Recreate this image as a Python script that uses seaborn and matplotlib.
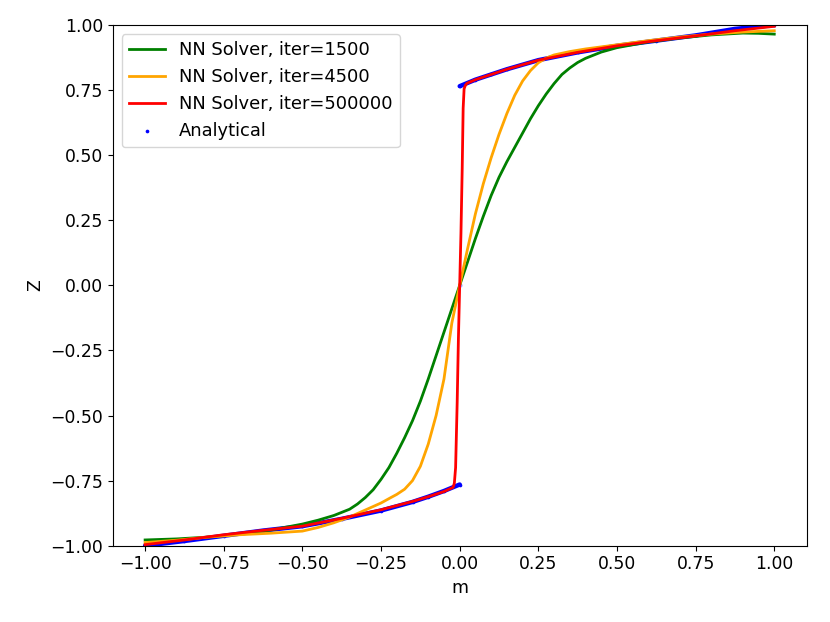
import numpy as np
import pandas as pd
import matplotlib
matplotlib.use("Agg")
import matplotlib.pyplot as plt
import seaborn as sns

# ---- data ----
green_m = [-1.0, -0.9, -0.8, -0.7, -0.6, -0.5, -0.45, -0.4, -0.35, -0.325, -0.3, -0.275,
           -0.25, -0.225, -0.2, -0.175, -0.15, -0.125, -0.1, -0.075, -0.05, -0.025, 0.0,
           0.025, 0.05, 0.075, 0.1, 0.125, 0.15, 0.175, 0.2, 0.225, 0.25, 0.275, 0.3,
           0.325, 0.35, 0.375, 0.4, 0.45, 0.5, 0.6, 0.7, 0.8, 0.9, 0.95, 1.0]
green_z = [-0.978, -0.974, -0.967, -0.956, -0.94, -0.917, -0.902, -0.884, -0.86, -0.84,
           -0.815, -0.785, -0.745, -0.70, -0.645, -0.585, -0.52, -0.445, -0.36, -0.27,
           -0.18, -0.09, 0.0, 0.09, 0.18, 0.265, 0.345, 0.415, 0.475, 0.53, 0.585, 0.64,
           0.69, 0.735, 0.775, 0.81, 0.835, 0.856, 0.872, 0.896, 0.913, 0.935, 0.95,
           0.962, 0.969, 0.968, 0.965]

orange_m = [-1.0, -0.9, -0.8, -0.7, -0.6, -0.5, -0.45, -0.4, -0.35, -0.3, -0.25, -0.22,
            -0.2, -0.175, -0.15, -0.125, -0.1, -0.075, -0.05, -0.025, 0.0, 0.025, 0.05,
            0.075, 0.1, 0.125, 0.15, 0.175, 0.2, 0.225, 0.25, 0.275, 0.3, 0.35, 0.4,
            0.5, 0.6, 0.7, 0.8, 0.9, 1.0]
orange_z = [-0.988, -0.979, -0.967, -0.958, -0.952, -0.944, -0.93, -0.912, -0.89, -0.863,
            -0.836, -0.816, -0.803, -0.783, -0.75, -0.695, -0.61, -0.50, -0.36, -0.145,
            0.0, 0.14, 0.275, 0.39, 0.49, 0.58, 0.66, 0.73, 0.785, 0.825, 0.855,
            0.873, 0.885, 0.898, 0.908, 0.924, 0.94, 0.954, 0.965, 0.973, 0.978]

red_m = [-1.0, -0.875, -0.75, -0.625, -0.5, -0.375, -0.25, -0.15, -0.1, -0.05, -0.021,
         -0.017, -0.013, -0.008, -0.004, 0.0, 0.004, 0.008, 0.011, 0.014, 0.018, 0.023,
         0.05, 0.1, 0.15, 0.25, 0.375, 0.5, 0.625, 0.75, 0.875, 1.0]
red_z = [-0.996, -0.978, -0.958, -0.941, -0.925, -0.895, -0.862, -0.83, -0.812, -0.792,
         -0.776, -0.76, -0.7, -0.45, -0.2, 0.0, 0.2, 0.45, 0.68, 0.755, 0.768, 0.776,
         0.79, 0.81, 0.83, 0.865, 0.895, 0.92, 0.94, 0.958, 0.978, 0.995]

ana_neg_m = [-1.0, -0.875, -0.75, -0.625, -0.5, -0.375, -0.25, -0.15, -0.1, -0.05, 0.0]
ana_neg_z = [-1.0, -0.982, -0.962, -0.942, -0.925, -0.897, -0.865, -0.832, -0.812, -0.79, -0.765]
ana_pos_m = [0.0, 0.05, 0.1, 0.15, 0.25, 0.375, 0.5, 0.625, 0.75, 0.875, 1.0]
ana_pos_z = [0.765, 0.79, 0.81, 0.83, 0.865, 0.895, 0.92, 0.94, 0.96, 0.985, 1.0]
ana_mid_m = [0.0]
ana_mid_z = [0.0]

labels = ["NN Solver, iter=1500", "NN Solver, iter=4500", "NN Solver, iter=500000", "Analytical"]
tick_vals = [-1.0, -0.75, -0.5, -0.25, 0.0, 0.25, 0.5, 0.75, 1.0]

plt.rcParams["font.family"] = ["DejaVu Sans"]
plt.rcParams["font.size"] = 12.4

fig = plt.figure(figsize=(8.3, 6.22), dpi=100)
ax = fig.add_axes([0.1358, 0.1227, 0.9719 - 0.1358, 0.9598 - 0.1227])

# analytical: dense dots -> thick blue band plus dots
for mm, zz in [(ana_neg_m, ana_neg_z), (ana_pos_m, ana_pos_z)]:
    ax.plot(mm, zz, color="blue", lw=3.2, solid_capstyle="round", zorder=1)
sns.scatterplot(x=ana_neg_m + ana_pos_m, y=ana_neg_z + ana_pos_z, color="blue",
                s=7, linewidth=0, label=labels[3], ax=ax, zorder=1)
sns.scatterplot(x=ana_mid_m, y=ana_mid_z, color="blue", alpha=0.35, s=9,
                linewidth=0, ax=ax, zorder=1, legend=False)

sns.lineplot(x=green_m, y=green_z, color="green", lw=2, label=labels[0], ax=ax, sort=False)
sns.lineplot(x=orange_m, y=orange_z, color="orange", lw=2, label=labels[1], ax=ax, sort=False)
sns.lineplot(x=red_m, y=red_z, color="red", lw=2, label=labels[2], ax=ax, sort=False)

ax.set_xlim(-1.103, 1.103)
ax.set_ylim(-1.0, 1.0)
ax.set_xticks(tick_vals)
ax.set_yticks(tick_vals)
ax.set_xticklabels([f"{v:.2f}".replace("-", "\u2212") for v in tick_vals])
ax.set_yticklabels([f"{v:.2f}".replace("-", "\u2212") for v in tick_vals])
ax.set_xlabel("m")
ax.set_ylabel("Z")

handles, labs = ax.get_legend_handles_labels()
order = [labs.index(l) for l in labels]
ax.legend([handles[i] for i in order], [labs[i] for i in order], loc="upper left",
          fontsize=12.9)

fig.savefig("out.png", dpi=100)
